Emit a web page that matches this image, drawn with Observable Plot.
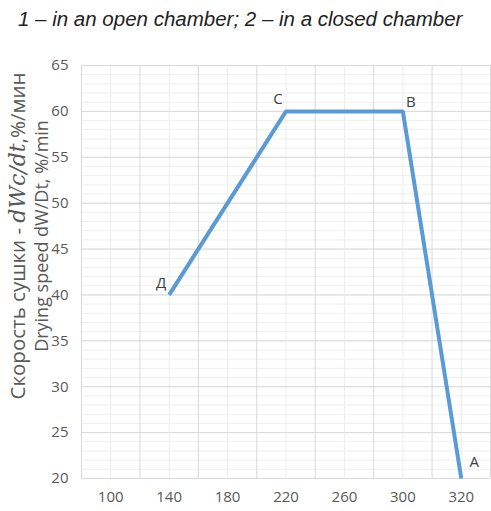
<!DOCTYPE html>
<html>
<head>
<meta charset="utf-8">
<script src="https://cdn.jsdelivr.net/npm/d3@7"></script>
<script src="https://cdn.jsdelivr.net/npm/@observablehq/plot@0.6"></script>
<style>
  html, body { margin: 0; padding: 0; background: #fff; }
  #title { height: 45px; font-family: "Liberation Sans", Arial, sans-serif; font-style: italic; font-size: 20.5px; color: #222; padding-left: 18px; line-height: 38px; box-sizing: border-box; white-space: nowrap; }
</style>
</head>
<body>
<div id="title">1 – in an open chamber; 2 – in a closed chamber</div>
<div id="chart"></div>
<script>
const categories = ["100", "140", "180", "220", "260", "300", "320"];
const pointLabels = ["Д", "C", "B", "A"];
const pointCategories = ["140", "220", "300", "320"];
const pointValues = [40, 60, 60, 20];
const yTicks = [20, 25, 30, 35, 40, 45, 50, 55, 60, 65];

const data = pointLabels.map((l, i) => ({label: l, x: categories.indexOf(pointCategories[i]), y: pointValues[i]}));
const catIdx = categories.map((c, i) => i);
const boundaries = categories.map((c, i) => i - 0.5).concat([categories.length - 0.5]);
const minorY = d3.range(yTicks[0], yTicks[yTicks.length - 1] + 1, 1);
const labelOffsets = {"Д": [-8, -12], "C": [-8, -12], "B": [8, -9], "A": [13, -16]};

const font = '"Open Sans", sans-serif';

const plot = Plot.plot({
  width: 491,
  height: 466,
  marginTop: 20,
  marginBottom: 33,
  marginLeft: 81,
  marginRight: 1,
  style: {fontFamily: font, fontSize: "15px", color: "#595959", background: "#fff"},
  x: {type: "linear", domain: [-0.5, categories.length - 0.5], ticks: catIdx, tickFormat: i => categories[i], tickSize: 0, tickPadding: 13, label: null},
  y: {domain: [20, 65], ticks: yTicks, tickSize: 0, tickPadding: 13, label: null},
  marks: [
    Plot.ruleY(minorY, {stroke: "#efefef", strokeWidth: 1}),
    Plot.ruleX(catIdx, {stroke: "#ececec", strokeWidth: 1}),
    Plot.ruleY(yTicks, {stroke: "#d9d9d9", strokeWidth: 1}),
    Plot.ruleX(boundaries, {stroke: "#d9d9d9", strokeWidth: 1}),
    Plot.line(data, {x: "x", y: "y", stroke: "#5B9BD5", strokeWidth: 4, strokeLinejoin: "miter", strokeLinecap: "butt"}),
    ...data.map(d => Plot.text([d], {x: "x", y: "y", text: "label", dx: labelOffsets[d.label][0], dy: labelOffsets[d.label][1], fill: "#404040", fontSize: 15, fontFamily: font}))
  ]
});

document.getElementById("chart").appendChild(plot);

// Axis titles (rotated)
const svg = d3.select(plot);
const t1 = svg.append("text")
  .attr("transform", "translate(17,191) rotate(-90)")
  .attr("text-anchor", "middle")
  .attr("dominant-baseline", "central")
  .attr("fill", "#595959")
  .style("font-family", font)
  .style("font-size", "20.5px");
t1.append("tspan").text("Скорость сушки - ");
t1.append("tspan").text("dWc/dt").style("font-family", '"DejaVu Serif", "Liberation Serif", serif').style("font-style", "italic").style("font-size", "22px");
t1.append("tspan").text(",%/мин");

svg.append("text")
  .attr("transform", "translate(41,191) rotate(-90)")
  .attr("text-anchor", "middle")
  .attr("dominant-baseline", "central")
  .attr("fill", "#595959")
  .style("font-family", font)
  .style("font-size", "18px")
  .text("Drying speed dW/Dt, %/min");
</script>
</body>
</html>
